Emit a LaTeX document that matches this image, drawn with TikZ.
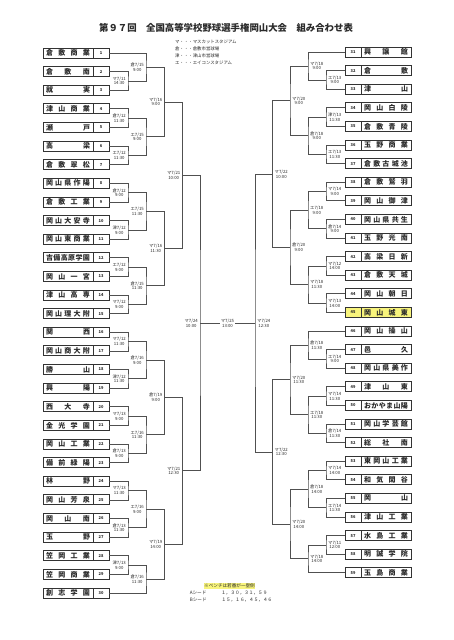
\documentclass[tikz,border=0pt]{standalone}
\usepackage{fontspec}
\setmainfont{Noto Sans CJK JP}
\usetikzlibrary{calc,positioning}
\definecolor{InkText}{HTML}{2B2B2B}
\definecolor{BoxLine}{HTML}{333333}
\definecolor{BracketLine}{HTML}{505050}
\definecolor{MarkYellow}{HTML}{F8F47C}
\tikzset{
  team name/.style={
    draw=BoxLine,
    line width=0.9pt,
    minimum width=50pt,
    minimum height=10pt,
    inner sep=0pt,
    outer sep=0pt,
    text=InkText,
    font=\fontsize{7}{8}\selectfont\bfseries
  },
  team num/.style={
    draw=BoxLine,
    line width=0.9pt,
    minimum width=16pt,
    minimum height=10pt,
    inner sep=0pt,
    outer sep=0pt,
    text=InkText,
    font=\fontsize{4}{4}\selectfont\bfseries
  },
  bracket/.style={draw=BracketLine,line width=0.75pt},
  match label/.style={
    text=InkText,
    inner sep=0.5pt,
    align=center,
    font=\fontsize{4.3}{4.7}\selectfont
  },
  final label/.style={match label,fill=white},
  title text/.style={text=InkText,font=\fontsize{9.4}{11}\selectfont\bfseries},
  legend text/.style={
    text=InkText,
    anchor=north west,
    inner sep=0pt,
    align=left,
    font=\fontsize{4.4}{6.9}\selectfont
  },
  seed note/.style={text=InkText,inner sep=0.6pt,font=\fontsize{4.6}{5}\selectfont}
}
% spread the letters of a school name over the box
\newcommand{\tname}[1]{\makebox[44pt][s]{\tnamestep#1\relax}}
\def\tnamestep#1#2{#1\ifx\relax#2\else\hfill\expandafter\tnamestep\fi#2}
% left team: name box, then number box
\newcommand{\teamL}[4][]{%
  \node[team name,#1,#3] (n#2) {\tname{#4}};
  \node[team num,#1,right=0pt of n#2] (t#2) {#2};
}
% right team: number box, then name box
\newcommand{\teamR}[4][]{%
  \node[team num,#1,#3] (t#2) {#2};
  \node[team name,#1,right=0pt of t#2] (n#2) {\tname{#4}};
}
% match on the left half / right half
\newcommand{\matchL}[5]{%
  \coordinate (#1m) at ($(#2)!0.5!(#3)$);
  \coordinate (#1) at (#4 |- #1m);
  \draw[bracket] (#2) -| (#1) |- (#3);
  \node[match label,anchor=east] (#1l) at ([xshift=-1.5pt]#1) {#5};
}
\newcommand{\matchR}[5]{%
  \coordinate (#1m) at ($(#2)!0.5!(#3)$);
  \coordinate (#1) at (#4 |- #1m);
  \draw[bracket] (#2) -| (#1) |- (#3);
  \node[match label,anchor=west] (#1l) at ([xshift=1.5pt]#1) {#5};
}

\begin{document}
\begin{tikzpicture}[x=1pt,y=-1pt]
  \path[fill=white,use as bounding box] (0,0) rectangle (453,640);

  \node[title text] (title) at (226,28) {第９７回　全国高等学校野球選手権岡山大会　組み合わせ表};
  \node[legend text] (legend) at (175,40) {マ・・・マスカットスタジアム\\倉・・・倉敷市営球場\\津・・・津山市営球場\\エ・・・エイコンスタジアム};

  % rounds
  \coordinate (L1) at (128,0);
  \coordinate (L2) at (146,0);
  \coordinate (L3) at (164.5,0);
  \coordinate (L4) at (182.5,0);
  \coordinate (L5) at (200,0);
  \coordinate (R1) at (326,0);
  \coordinate (R2) at (308,0);
  \coordinate (R3) at (290,0);
  \coordinate (R4) at (272.5,0);
  \coordinate (R5) at (255,0);

  % left teams
  \teamL{1}{at={(68,53)}}{倉敷商業}
  \teamL{2}{below=8.62pt of n1}{倉敷南}
  \teamL{3}{below=8.62pt of n2}{就実}
  \teamL{4}{below=8.62pt of n3}{津山商業}
  \teamL{5}{below=8.62pt of n4}{瀬戸}
  \teamL{6}{below=8.62pt of n5}{高梁}
  \teamL{7}{below=8.62pt of n6}{倉敷翠松}
  \teamL{8}{below=8.62pt of n7}{岡山県作陽}
  \teamL{9}{below=8.62pt of n8}{倉敷工業}
  \teamL{10}{below=8.62pt of n9}{岡山大安寺}
  \teamL{11}{below=8.62pt of n10}{岡山東商業}
  \teamL{12}{below=8.62pt of n11}{吉備高原学園}
  \teamL{13}{below=8.62pt of n12}{岡山一宮}
  \teamL{14}{below=8.62pt of n13}{津山高専}
  \teamL{15}{below=8.62pt of n14}{岡山理大附}
  \teamL{16}{below=8.62pt of n15}{関西}
  \teamL{17}{below=8.62pt of n16}{岡山商大附}
  \teamL{18}{below=8.62pt of n17}{勝山}
  \teamL{19}{below=8.62pt of n18}{興陽}
  \teamL{20}{below=8.62pt of n19}{西大寺}
  \teamL{21}{below=8.62pt of n20}{金光学園}
  \teamL{22}{below=8.62pt of n21}{岡山工業}
  \teamL{23}{below=8.62pt of n22}{備前緑陽}
  \teamL{24}{below=8.62pt of n23}{林野}
  \teamL{25}{below=8.62pt of n24}{岡山芳泉}
  \teamL{26}{below=8.62pt of n25}{岡山南}
  \teamL{27}{below=8.62pt of n26}{玉野}
  \teamL{28}{below=8.62pt of n27}{笠岡工業}
  \teamL{29}{below=8.62pt of n28}{笠岡商業}
  \teamL{30}{below=8.62pt of n29}{創志学園}

  % right teams
  \teamR{31}{at={(353,52)}}{興譲館}
  \teamR{32}{below=8.6pt of t31}{倉敷}
  \teamR{33}{below=8.6pt of t32}{津山}
  \teamR{34}{below=8.6pt of t33}{岡山白陵}
  \teamR{35}{below=8.6pt of t34}{倉敷青陵}
  \teamR{36}{below=8.6pt of t35}{玉野商業}
  \teamR{37}{below=8.6pt of t36}{倉敷古城池}
  \teamR{38}{below=8.6pt of t37}{倉敷鷲羽}
  \teamR{39}{below=8.6pt of t38}{岡山御津}
  \teamR{40}{below=8.6pt of t39}{岡山県共生}
  \teamR{41}{below=8.6pt of t40}{玉野光南}
  \teamR{42}{below=8.6pt of t41}{高梁日新}
  \teamR{43}{below=8.6pt of t42}{倉敷天城}
  \teamR{44}{below=8.6pt of t43}{岡山朝日}
  \teamR[fill=MarkYellow]{45}{below=8.6pt of t44}{岡山城東}
  \teamR{46}{below=8.6pt of t45}{岡山操山}
  \teamR{47}{below=8.6pt of t46}{邑久}
  \teamR{48}{below=8.6pt of t47}{岡山県美作}
  \teamR{49}{below=8.6pt of t48}{津山東}
  \teamR{50}{below=8.6pt of t49}{おかやま山陽}
  \teamR{51}{below=8.6pt of t50}{岡山学芸館}
  \teamR{52}{below=8.6pt of t51}{総社南}
  \teamR{53}{below=8.6pt of t52}{東岡山工業}
  \teamR{54}{below=8.6pt of t53}{和気閑谷}
  \teamR{55}{below=8.6pt of t54}{岡山}
  \teamR{56}{below=8.6pt of t55}{津山工業}
  \teamR{57}{below=8.6pt of t56}{水島工業}
  \teamR{58}{below=8.6pt of t57}{明誠学院}
  \teamR{59}{below=8.6pt of t58}{玉島商業}

  % left half
  \matchL{m2}{t2.east}{t3.east}{L1}{マ7/11\\14:30}
  \matchL{m1}{t1.east}{m2}{L2}{倉7/15\\9:00}
  \matchL{m4}{t4.east}{t5.east}{L1}{倉7/12\\11:30}
  \matchL{m6}{t6.east}{t7.east}{L1}{エ7/12\\11:30}
  \matchL{m4b}{m4}{m6}{L2}{エ7/15\\9:00}
  \matchL{r1}{m1}{m4b}{L3}{マ7/16\\9:00}
  \matchL{m8}{t8.east}{t9.east}{L1}{倉7/12\\9:00}
  \matchL{m10}{t10.east}{t11.east}{L1}{津7/12\\9:00}
  \matchL{m8b}{m8}{m10}{L2}{エ7/15\\11:30}
  \matchL{m12}{t12.east}{t13.east}{L1}{エ7/12\\9:00}
  \matchL{m14}{t14.east}{t15.east}{L1}{マ7/12\\9:00}
  \matchL{m12b}{m12}{m14}{L2}{倉7/15\\11:30}
  \matchL{r8}{m8b}{m12b}{L3}{マ7/16\\11:30}
  \matchL{q1}{r1}{r8}{L4}{マ7/21\\10:00}
  \matchL{m16}{t16.east}{t17.east}{L1}{マ7/12\\11:30}
  \matchL{m18}{t18.east}{t19.east}{L1}{津7/12\\11:30}
  \matchL{m16b}{m16}{m18}{L2}{倉7/16\\9:00}
  \matchL{m20}{t20.east}{t21.east}{L1}{マ7/13\\9:00}
  \matchL{m22}{t22.east}{t23.east}{L1}{倉7/13\\9:00}
  \matchL{m20b}{m20}{m22}{L2}{エ7/16\\11:30}
  \matchL{r16}{m16b}{m20b}{L3}{倉7/19\\9:00}
  \matchL{m24}{t24.east}{t25.east}{L1}{マ7/13\\11:30}
  \matchL{m26}{t26.east}{t27.east}{L1}{倉7/13\\11:30}
  \matchL{m24b}{m24}{m26}{L2}{エ7/16\\9:00}
  \matchL{m28}{t28.east}{t29.east}{L1}{津7/13\\9:00}
  \matchL{m28b}{m28}{t30.east}{L2}{倉7/16\\11:30}
  \matchL{r24}{m24b}{m28b}{L3}{マ7/19\\14:00}
  \matchL{q2}{r16}{r24}{L4}{マ7/21\\12:30}
  \matchL{sfL}{q1}{q2}{L5}{マ7/24\\10:00}

  % right half
  \matchR{m32}{t32.west}{t33.west}{R1}{エ7/13\\9:00}
  \matchR{m31}{t31.west}{m32}{R2}{マ7/18\\9:00}
  \matchR{m34}{t34.west}{t35.west}{R1}{津7/13\\11:30}
  \matchR{m36}{t36.west}{t37.west}{R1}{エ7/13\\11:30}
  \matchR{m34b}{m34}{m36}{R2}{倉7/18\\9:00}
  \matchR{r31}{m31}{m34b}{R3}{マ7/20\\9:00}
  \matchR{m38}{t38.west}{t39.west}{R1}{マ7/14\\9:00}
  \matchR{m40}{t40.west}{t41.west}{R1}{倉7/14\\9:00}
  \matchR{m38b}{m38}{m40}{R2}{エ7/18\\9:00}
  \matchR{m42}{t42.west}{t43.west}{R1}{マ7/12\\14:00}
  \matchR{m44}{t44.west}{t45.west}{R1}{マ7/13\\14:00}
  \matchR{m42b}{m42}{m44}{R2}{マ7/18\\11:30}
  \matchR{r38}{m38b}{m42b}{R3}{倉7/20\\9:00}
  \matchR{q3}{r31}{r38}{R4}{マ7/22\\10:00}
  \matchR{m47}{t47.west}{t48.west}{R1}{エ7/14\\9:00}
  \matchR{m46}{t46.west}{m47}{R2}{倉7/18\\11:30}
  \matchR{m49}{t49.west}{t50.west}{R1}{マ7/14\\11:30}
  \matchR{m51}{t51.west}{t52.west}{R1}{倉7/14\\11:30}
  \matchR{m49b}{m49}{m51}{R2}{エ7/18\\11:30}
  \matchR{r46}{m46}{m49b}{R3}{マ7/20\\11:30}
  \matchR{m53}{t53.west}{t54.west}{R1}{マ7/14\\14:00}
  \matchR{m55}{t55.west}{t56.west}{R1}{エ7/14\\11:30}
  \matchR{m53b}{m53}{m55}{R2}{倉7/18\\14:00}
  \matchR{m57}{t57.west}{t58.west}{R1}{マ7/11\\12:00}
  \matchR{m57b}{m57}{t59.west}{R2}{マ7/18\\14:00}
  \matchR{r53}{m53b}{m57b}{R3}{マ7/20\\14:00}
  \matchR{q4}{r46}{r53}{R4}{マ7/22\\12:30}

  % semifinal right and final
  \coordinate (sfR) at (R5 |- sfL);
  \draw[bracket] (q3) -| (sfR) |- (q4);
  \node[match label,anchor=west] (sfRl) at ([xshift=1.5pt]sfR) {マ7/24\\12:30};
  \draw[bracket] (sfL) -- node[final label] (finl) {マ7/25\\13:00} (sfR);

  % notes
  \node[seed note,fill=MarkYellow] (bench) at (229.5,586) {※ベンチは若番が一塁側};
  \node[seed note,anchor=west] (seedA) at (189,593.3) {Aシード\hspace{15pt}１，３０，３１，５９};
  \node[seed note,anchor=west] (seedB) at (189,600.3) {Bシード\hspace{15pt}１５，１６，４５，４６};
\end{tikzpicture}
\end{document}
